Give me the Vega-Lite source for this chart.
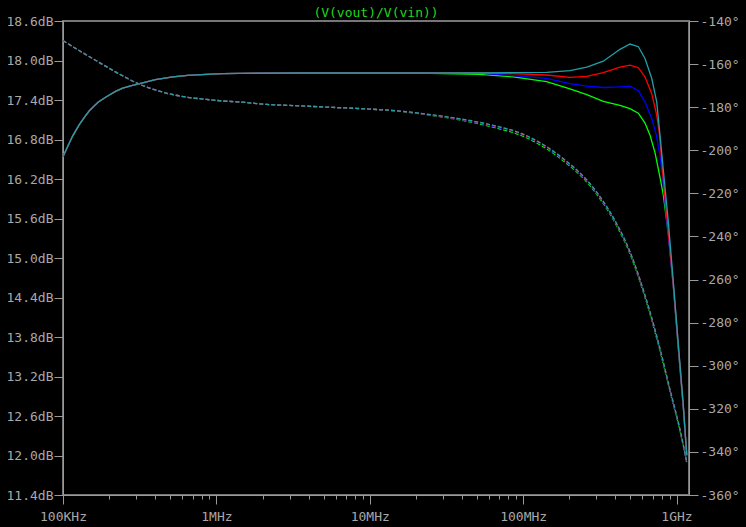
{
  "$schema": "https://vega.github.io/schema/vega-lite/v6.json",
  "width": 626,
  "height": 474,
  "autosize": {"type": "none"},
  "padding": {"left": 63, "top": 21, "right": 57, "bottom": 32},
  "background": "#000000",
  "config": {
    "view": {"stroke": "#767676", "strokeWidth": 2},
    "font": "DejaVu Sans Mono"
  },
  "title": {
    "text": "(V(vout)/V(vin))",
    "color": "#1ed81e",
    "font": "DejaVu Sans Mono",
    "fontSize": 13,
    "fontWeight": "normal",
    "anchor": "middle",
    "offset": -5
  },
  "datasets": {
    "mag": [
      {"s": "green", "f": 100000, "db": 16.54}, {"s": "green", "f": 108000, "db": 16.71}, {"s": "green", "f": 116000, "db": 16.86}, {"s": "green", "f": 128000, "db": 17.03}, {"s": "green", "f": 140000, "db": 17.16}, {"s": "green", "f": 149000, "db": 17.24}, {"s": "green", "f": 170000, "db": 17.37}, {"s": "green", "f": 192000, "db": 17.45}, {"s": "green", "f": 220000, "db": 17.53}, {"s": "green", "f": 245000, "db": 17.58}, {"s": "green", "f": 280000, "db": 17.62}, {"s": "green", "f": 316000, "db": 17.65}, {"s": "green", "f": 400000, "db": 17.71}, {"s": "green", "f": 520000, "db": 17.75}, {"s": "green", "f": 650000, "db": 17.775}, {"s": "green", "f": 860000, "db": 17.79}, {"s": "green", "f": 1100000, "db": 17.8}, {"s": "green", "f": 1420000, "db": 17.805}, {"s": "green", "f": 3500000, "db": 17.81}, {"s": "green", "f": 10000000, "db": 17.81}, {"s": "green", "f": 25000000, "db": 17.805},
      {"s": "green", "f": 52000000, "db": 17.79}, {"s": "green", "f": 86000000, "db": 17.75}, {"s": "green", "f": 142000000, "db": 17.68}, {"s": "green", "f": 202000000, "db": 17.57}, {"s": "green", "f": 260000000, "db": 17.48}, {"s": "green", "f": 333000000, "db": 17.38}, {"s": "green", "f": 428000000, "db": 17.32}, {"s": "green", "f": 497000000, "db": 17.27}, {"s": "green", "f": 564000000, "db": 17.2}, {"s": "green", "f": 623000000, "db": 17.05}, {"s": "green", "f": 671000000, "db": 16.87}, {"s": "green", "f": 724000000, "db": 16.6}, {"s": "green", "f": 780000000, "db": 16.23}, {"s": "green", "f": 820000000, "db": 15.96}, {"s": "green", "f": 884000000, "db": 15.37}, {"s": "green", "f": 953000000, "db": 14.57}, {"s": "green", "f": 1028000000, "db": 13.62}, {"s": "green", "f": 1107000000, "db": 12.73}, {"s": "green", "f": 1166000000, "db": 12.0},

      {"s": "blue", "f": 100000, "db": 16.54}, {"s": "blue", "f": 108000, "db": 16.71}, {"s": "blue", "f": 116000, "db": 16.86}, {"s": "blue", "f": 128000, "db": 17.03}, {"s": "blue", "f": 140000, "db": 17.16}, {"s": "blue", "f": 149000, "db": 17.24}, {"s": "blue", "f": 170000, "db": 17.37}, {"s": "blue", "f": 192000, "db": 17.45}, {"s": "blue", "f": 220000, "db": 17.53}, {"s": "blue", "f": 245000, "db": 17.58}, {"s": "blue", "f": 280000, "db": 17.62}, {"s": "blue", "f": 316000, "db": 17.65}, {"s": "blue", "f": 400000, "db": 17.71}, {"s": "blue", "f": 520000, "db": 17.75}, {"s": "blue", "f": 650000, "db": 17.775}, {"s": "blue", "f": 860000, "db": 17.79}, {"s": "blue", "f": 1100000, "db": 17.8}, {"s": "blue", "f": 1420000, "db": 17.805}, {"s": "blue", "f": 3500000, "db": 17.81}, {"s": "blue", "f": 10000000, "db": 17.81}, {"s": "blue", "f": 25000000, "db": 17.81},
      {"s": "blue", "f": 52000000, "db": 17.81}, {"s": "blue", "f": 86000000, "db": 17.77}, {"s": "blue", "f": 142000000, "db": 17.73}, {"s": "blue", "f": 202000000, "db": 17.65}, {"s": "blue", "f": 260000000, "db": 17.61}, {"s": "blue", "f": 333000000, "db": 17.59}, {"s": "blue", "f": 428000000, "db": 17.6}, {"s": "blue", "f": 497000000, "db": 17.61}, {"s": "blue", "f": 564000000, "db": 17.54}, {"s": "blue", "f": 623000000, "db": 17.37}, {"s": "blue", "f": 689000000, "db": 17.12}, {"s": "blue", "f": 738000000, "db": 16.87}, {"s": "blue", "f": 780000000, "db": 16.56}, {"s": "blue", "f": 820000000, "db": 16.11}, {"s": "blue", "f": 884000000, "db": 15.33}, {"s": "blue", "f": 953000000, "db": 14.57}, {"s": "blue", "f": 1028000000, "db": 13.63}, {"s": "blue", "f": 1107000000, "db": 12.74}, {"s": "blue", "f": 1166000000, "db": 11.99},

      {"s": "red", "f": 100000, "db": 16.54}, {"s": "red", "f": 108000, "db": 16.71}, {"s": "red", "f": 116000, "db": 16.86}, {"s": "red", "f": 128000, "db": 17.03}, {"s": "red", "f": 140000, "db": 17.16}, {"s": "red", "f": 149000, "db": 17.24}, {"s": "red", "f": 170000, "db": 17.37}, {"s": "red", "f": 192000, "db": 17.45}, {"s": "red", "f": 220000, "db": 17.53}, {"s": "red", "f": 245000, "db": 17.58}, {"s": "red", "f": 280000, "db": 17.62}, {"s": "red", "f": 316000, "db": 17.65}, {"s": "red", "f": 400000, "db": 17.71}, {"s": "red", "f": 520000, "db": 17.75}, {"s": "red", "f": 650000, "db": 17.775}, {"s": "red", "f": 860000, "db": 17.79}, {"s": "red", "f": 1100000, "db": 17.8}, {"s": "red", "f": 1420000, "db": 17.805}, {"s": "red", "f": 3500000, "db": 17.81}, {"s": "red", "f": 10000000, "db": 17.81}, {"s": "red", "f": 25000000, "db": 17.81},
      {"s": "red", "f": 52000000, "db": 17.81}, {"s": "red", "f": 86000000, "db": 17.8}, {"s": "red", "f": 142000000, "db": 17.78}, {"s": "red", "f": 202000000, "db": 17.745}, {"s": "red", "f": 260000000, "db": 17.76}, {"s": "red", "f": 333000000, "db": 17.815}, {"s": "red", "f": 428000000, "db": 17.9}, {"s": "red", "f": 497000000, "db": 17.93}, {"s": "red", "f": 564000000, "db": 17.89}, {"s": "red", "f": 623000000, "db": 17.75}, {"s": "red", "f": 689000000, "db": 17.5}, {"s": "red", "f": 743000000, "db": 17.17}, {"s": "red", "f": 775000000, "db": 16.87}, {"s": "red", "f": 820000000, "db": 16.18}, {"s": "red", "f": 884000000, "db": 15.4}, {"s": "red", "f": 953000000, "db": 14.6}, {"s": "red", "f": 1028000000, "db": 13.66}, {"s": "red", "f": 1107000000, "db": 12.76}, {"s": "red", "f": 1166000000, "db": 12.0},

      {"s": "cyan", "f": 100000, "db": 16.54}, {"s": "cyan", "f": 108000, "db": 16.71}, {"s": "cyan", "f": 116000, "db": 16.86}, {"s": "cyan", "f": 128000, "db": 17.03}, {"s": "cyan", "f": 140000, "db": 17.16}, {"s": "cyan", "f": 149000, "db": 17.24}, {"s": "cyan", "f": 170000, "db": 17.37}, {"s": "cyan", "f": 192000, "db": 17.45}, {"s": "cyan", "f": 220000, "db": 17.53}, {"s": "cyan", "f": 245000, "db": 17.58}, {"s": "cyan", "f": 280000, "db": 17.62}, {"s": "cyan", "f": 316000, "db": 17.65}, {"s": "cyan", "f": 400000, "db": 17.71}, {"s": "cyan", "f": 520000, "db": 17.75}, {"s": "cyan", "f": 650000, "db": 17.775}, {"s": "cyan", "f": 860000, "db": 17.79}, {"s": "cyan", "f": 1100000, "db": 17.8}, {"s": "cyan", "f": 1420000, "db": 17.805}, {"s": "cyan", "f": 3500000, "db": 17.81}, {"s": "cyan", "f": 10000000, "db": 17.81}, {"s": "cyan", "f": 25000000, "db": 17.81},
      {"s": "cyan", "f": 52000000, "db": 17.81}, {"s": "cyan", "f": 86000000, "db": 17.815}, {"s": "cyan", "f": 142000000, "db": 17.82}, {"s": "cyan", "f": 202000000, "db": 17.845}, {"s": "cyan", "f": 260000000, "db": 17.9}, {"s": "cyan", "f": 333000000, "db": 17.99}, {"s": "cyan", "f": 428000000, "db": 18.17}, {"s": "cyan", "f": 497000000, "db": 18.25}, {"s": "cyan", "f": 564000000, "db": 18.21}, {"s": "cyan", "f": 623000000, "db": 18.03}, {"s": "cyan", "f": 689000000, "db": 17.73}, {"s": "cyan", "f": 743000000, "db": 17.37}, {"s": "cyan", "f": 780000000, "db": 16.87}, {"s": "cyan", "f": 820000000, "db": 16.34}, {"s": "cyan", "f": 884000000, "db": 15.55}, {"s": "cyan", "f": 953000000, "db": 14.64}, {"s": "cyan", "f": 1028000000, "db": 13.68}, {"s": "cyan", "f": 1107000000, "db": 12.77}, {"s": "cyan", "f": 1166000000, "db": 12.01}
    ],
    "phase": [
      {"s": "green", "f": 100000, "deg": -149.1}, {"s": "green", "f": 128000, "deg": -153.8}, {"s": "green", "f": 149000, "deg": -156.6}, {"s": "green", "f": 192000, "deg": -161.2}, {"s": "green", "f": 247000, "deg": -165.6}, {"s": "green", "f": 316000, "deg": -169.4}, {"s": "green", "f": 400000, "deg": -172.0}, {"s": "green", "f": 521000, "deg": -174.2}, {"s": "green", "f": 650000, "deg": -175.4}, {"s": "green", "f": 861000, "deg": -176.4}, {"s": "green", "f": 1100000, "deg": -177.1}, {"s": "green", "f": 1420000, "deg": -177.6}, {"s": "green", "f": 2120000, "deg": -178.7}, {"s": "green", "f": 3500000, "deg": -179.4}, {"s": "green", "f": 5770000, "deg": -180.1}, {"s": "green", "f": 9500000, "deg": -180.8}, {"s": "green", "f": 15700000, "deg": -181.9}, {"s": "green", "f": 23500000, "deg": -183.5}, {"s": "green", "f": 38700000, "deg": -185.9}, {"s": "green", "f": 63800000, "deg": -189.3}, {"s": "green", "f": 95300000, "deg": -192.9}, {"s": "green", "f": 135000000, "deg": -198.3}, {"s": "green", "f": 192000000, "deg": -206.1}, {"s": "green", "f": 259000000, "deg": -214.6}, {"s": "green", "f": 317000000, "deg": -222.5}, {"s": "green", "f": 407000000, "deg": -235.0}, {"s": "green", "f": 497000000, "deg": -248.0}, {"s": "green", "f": 578000000, "deg": -261.0}, {"s": "green", "f": 671000000, "deg": -275.9}, {"s": "green", "f": 780000000, "deg": -293.0}, {"s": "green", "f": 907000000, "deg": -311.9}, {"s": "green", "f": 1054000000, "deg": -330.3}, {"s": "green", "f": 1166000000, "deg": -345.0},

      {"s": "blue", "f": 100000, "deg": -149.1}, {"s": "blue", "f": 128000, "deg": -153.8}, {"s": "blue", "f": 149000, "deg": -156.6}, {"s": "blue", "f": 192000, "deg": -161.2}, {"s": "blue", "f": 247000, "deg": -165.6}, {"s": "blue", "f": 316000, "deg": -169.4}, {"s": "blue", "f": 400000, "deg": -172.0}, {"s": "blue", "f": 521000, "deg": -174.2}, {"s": "blue", "f": 650000, "deg": -175.4}, {"s": "blue", "f": 861000, "deg": -176.4}, {"s": "blue", "f": 1100000, "deg": -177.1}, {"s": "blue", "f": 1420000, "deg": -177.6}, {"s": "blue", "f": 2120000, "deg": -178.7}, {"s": "blue", "f": 3500000, "deg": -179.4}, {"s": "blue", "f": 5770000, "deg": -180.1}, {"s": "blue", "f": 9500000, "deg": -180.8}, {"s": "blue", "f": 15700000, "deg": -181.8}, {"s": "blue", "f": 23500000, "deg": -183.4}, {"s": "blue", "f": 38700000, "deg": -185.7}, {"s": "blue", "f": 63800000, "deg": -188.9}, {"s": "blue", "f": 95300000, "deg": -192.4}, {"s": "blue", "f": 135000000, "deg": -197.8}, {"s": "blue", "f": 192000000, "deg": -205.6}, {"s": "blue", "f": 259000000, "deg": -214.1}, {"s": "blue", "f": 317000000, "deg": -222.0}, {"s": "blue", "f": 407000000, "deg": -234.5}, {"s": "blue", "f": 497000000, "deg": -247.5}, {"s": "blue", "f": 578000000, "deg": -260.5}, {"s": "blue", "f": 671000000, "deg": -275.4}, {"s": "blue", "f": 780000000, "deg": -292.5}, {"s": "blue", "f": 907000000, "deg": -311.6}, {"s": "blue", "f": 1054000000, "deg": -330.0}, {"s": "blue", "f": 1166000000, "deg": -344.8},

      {"s": "red", "f": 100000, "deg": -149.1}, {"s": "red", "f": 128000, "deg": -153.8}, {"s": "red", "f": 149000, "deg": -156.6}, {"s": "red", "f": 192000, "deg": -161.2}, {"s": "red", "f": 247000, "deg": -165.6}, {"s": "red", "f": 316000, "deg": -169.4}, {"s": "red", "f": 400000, "deg": -172.0}, {"s": "red", "f": 521000, "deg": -174.2}, {"s": "red", "f": 650000, "deg": -175.4}, {"s": "red", "f": 861000, "deg": -176.4}, {"s": "red", "f": 1100000, "deg": -177.1}, {"s": "red", "f": 1420000, "deg": -177.6}, {"s": "red", "f": 2120000, "deg": -178.7}, {"s": "red", "f": 3500000, "deg": -179.4}, {"s": "red", "f": 5770000, "deg": -180.1}, {"s": "red", "f": 9500000, "deg": -180.8}, {"s": "red", "f": 15700000, "deg": -181.8}, {"s": "red", "f": 23500000, "deg": -183.3}, {"s": "red", "f": 38700000, "deg": -185.5}, {"s": "red", "f": 63800000, "deg": -188.6}, {"s": "red", "f": 95300000, "deg": -192.1}, {"s": "red", "f": 135000000, "deg": -197.5}, {"s": "red", "f": 192000000, "deg": -205.3}, {"s": "red", "f": 259000000, "deg": -213.8}, {"s": "red", "f": 317000000, "deg": -221.7}, {"s": "red", "f": 407000000, "deg": -234.2}, {"s": "red", "f": 497000000, "deg": -247.2}, {"s": "red", "f": 578000000, "deg": -260.2}, {"s": "red", "f": 671000000, "deg": -275.1}, {"s": "red", "f": 780000000, "deg": -292.2}, {"s": "red", "f": 907000000, "deg": -311.3}, {"s": "red", "f": 1054000000, "deg": -329.8}, {"s": "red", "f": 1166000000, "deg": -344.7},

      {"s": "cyan", "f": 100000, "deg": -149.1}, {"s": "cyan", "f": 128000, "deg": -153.8}, {"s": "cyan", "f": 149000, "deg": -156.6}, {"s": "cyan", "f": 192000, "deg": -161.2}, {"s": "cyan", "f": 247000, "deg": -165.6}, {"s": "cyan", "f": 316000, "deg": -169.4}, {"s": "cyan", "f": 400000, "deg": -172.0}, {"s": "cyan", "f": 521000, "deg": -174.2}, {"s": "cyan", "f": 650000, "deg": -175.4}, {"s": "cyan", "f": 861000, "deg": -176.4}, {"s": "cyan", "f": 1100000, "deg": -177.1}, {"s": "cyan", "f": 1420000, "deg": -177.6}, {"s": "cyan", "f": 2120000, "deg": -178.7}, {"s": "cyan", "f": 3500000, "deg": -179.4}, {"s": "cyan", "f": 5770000, "deg": -180.1}, {"s": "cyan", "f": 9500000, "deg": -180.8}, {"s": "cyan", "f": 15700000, "deg": -181.8}, {"s": "cyan", "f": 23500000, "deg": -183.2}, {"s": "cyan", "f": 38700000, "deg": -185.4}, {"s": "cyan", "f": 63800000, "deg": -188.4}, {"s": "cyan", "f": 95300000, "deg": -191.9}, {"s": "cyan", "f": 135000000, "deg": -197.3}, {"s": "cyan", "f": 192000000, "deg": -205.1}, {"s": "cyan", "f": 259000000, "deg": -213.6}, {"s": "cyan", "f": 317000000, "deg": -221.5}, {"s": "cyan", "f": 407000000, "deg": -234.0}, {"s": "cyan", "f": 497000000, "deg": -247.0}, {"s": "cyan", "f": 578000000, "deg": -260.0}, {"s": "cyan", "f": 671000000, "deg": -274.9}, {"s": "cyan", "f": 780000000, "deg": -292.0}, {"s": "cyan", "f": 907000000, "deg": -311.1}, {"s": "cyan", "f": 1054000000, "deg": -329.7}, {"s": "cyan", "f": 1166000000, "deg": -344.6}
    ]
  },
  "layer": [
    {
      "data": {"name": "mag"},
      "mark": {"type": "line", "strokeWidth": 1.3, "interpolate": "linear"},
      "encoding": {
        "x": {
          "field": "f",
          "type": "quantitative",
          "scale": {"type": "log", "domain": [100000, 1206000000], "nice": false},
          "axis": {
            "orient": "bottom",
            "values": [100000, 200000, 300000, 400000, 500000, 600000, 700000, 800000, 900000, 1000000, 2000000, 3000000, 4000000, 5000000, 6000000, 7000000, 8000000, 9000000, 10000000, 20000000, 30000000, 40000000, 50000000, 60000000, 70000000, 80000000, 90000000, 100000000, 200000000, 300000000, 400000000, 500000000, 600000000, 700000000, 800000000, 900000000, 1000000000],
            "labelExpr": "datum.value == 100000 ? '100KHz' : datum.value == 1000000 ? '1MHz' : datum.value == 10000000 ? '10MHz' : datum.value == 100000000 ? '100MHz' : datum.value == 1000000000 ? '1GHz' : ''",
            "tickSize": {"condition": {"test": "indexof([100000, 1000000, 10000000, 100000000, 1000000000], datum.value) >= 0", "value": 9}, "value": 4},
            "tickColor": "#9a9a9a",
            "domainColor": "#9a9a9a",
            "labelColor": "#a8a8a8",
            "labelFont": "DejaVu Sans Mono",
            "labelFontSize": 13,
            "labelPadding": 6,
            "labelOverlap": false,
            "labelFlush": false,
            "grid": false,
            "title": null
          }
        },
        "y": {
          "field": "db",
          "type": "quantitative",
          "scale": {"domain": [11.4, 18.6], "nice": false, "zero": false},
          "axis": {
            "orient": "left",
            "values": [11.4, 12.0, 12.6, 13.2, 13.8, 14.4, 15.0, 15.6, 16.2, 16.8, 17.4, 18.0, 18.6],
            "labelExpr": "format(datum.value, '.1f') + 'dB'",
            "tickSize": 9,
            "labelPadding": 1,
            "tickColor": "#9a9a9a",
            "domainColor": "#9a9a9a",
            "labelColor": "#a8a8a8",
            "labelFont": "DejaVu Sans Mono",
            "labelFontSize": 13,
            "labelOverlap": false,
            "labelFlush": false,
            "grid": false,
            "title": null
          }
        },
        "color": {
          "field": "s",
          "type": "nominal",
          "scale": {"domain": ["green", "blue", "red", "cyan"], "range": ["#00ff00", "#0000ff", "#ff0000", "#1fa0a8"]},
          "legend": null
        }
      }
    },
    {
      "data": {"name": "phase"},
      "mark": {"type": "line", "strokeWidth": 1.3, "strokeDash": [4, 2], "interpolate": "monotone"},
      "encoding": {
        "x": {"field": "f", "type": "quantitative", "scale": {"type": "log", "domain": [100000, 1206000000], "nice": false}},
        "y": {
          "field": "deg",
          "type": "quantitative",
          "scale": {"domain": [-360, -140], "nice": false, "zero": false},
          "axis": {
            "orient": "right",
            "values": [-360, -340, -320, -300, -280, -260, -240, -220, -200, -180, -160, -140],
            "labelExpr": "datum.value + '°'",
            "tickSize": 9,
            "labelPadding": 2,
            "tickColor": "#9a9a9a",
            "domainColor": "#9a9a9a",
            "labelColor": "#a8a8a8",
            "labelFont": "DejaVu Sans Mono",
            "labelFontSize": 13,
            "labelOverlap": false,
            "labelFlush": false,
            "grid": false,
            "title": null
          }
        },
        "color": {
          "field": "s",
          "type": "nominal",
          "scale": {"domain": ["green", "blue", "red", "cyan"], "range": ["#00ff00", "#0000ff", "#ff0000", "#1fa0a8"]},
          "legend": null
        }
      }
    }
  ],
  "resolve": {"scale": {"y": "independent"}}
}
